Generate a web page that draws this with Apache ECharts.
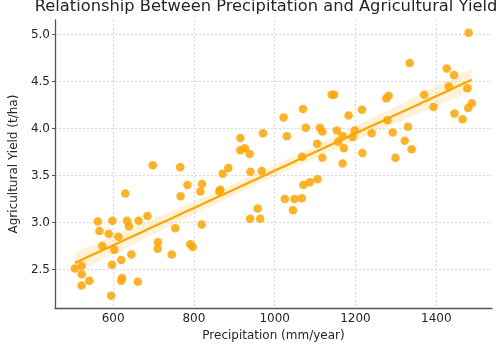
<!DOCTYPE html>
<html>
<head>
<meta charset="utf-8">
<script src="https://cdn.jsdelivr.net/npm/echarts@6/dist/echarts.min.js"></script>
<style>
  html, body { margin: 0; padding: 0; background: #fff; }
  #main { width: 498px; height: 347px; }
</style>
</head>
<body>
<div id="main"></div>
<script>
// precipitation (mm/year) and yield (t/ha)
var precipitation = [
  505, 522, 522, 522, 541, 562, 566, 573, 589, 598,
  597, 595, 603, 613, 620, 620, 622, 630, 634, 639,
  645, 661, 663, 685, 698, 711, 710, 745, 754, 766,
  767, 784, 791, 797, 816, 820, 819, 863, 865, 871,
  885, 915, 915, 926, 938, 940, 939, 958, 964, 968,
  971, 1022, 1025, 1030, 1045, 1049, 1067, 1068, 1070, 1071,
  1077, 1087, 1106, 1105, 1112, 1118, 1118, 1141, 1147, 1154,
  1157, 1168, 1168, 1171, 1183, 1193, 1198, 1216, 1217, 1240,
  1276, 1282, 1279, 1292, 1299, 1322, 1330, 1334, 1339, 1370,
  1393, 1426, 1431, 1444, 1445, 1465, 1477, 1479, 1480, 1488
];
var yieldVals = [
  2.51, 2.54, 2.45, 2.33, 2.38, 3.01, 2.91, 2.75, 2.88, 3.02,
  2.55, 2.22, 2.71, 2.85, 2.60, 2.38, 2.41, 3.31, 3.02, 2.96,
  2.66, 2.37, 3.02, 3.07, 3.61, 2.79, 2.72, 2.66, 2.94, 3.59,
  3.28, 3.40, 2.77, 2.74, 3.33, 3.41, 2.98, 3.33, 3.35, 3.52,
  3.58, 3.90, 3.77, 3.79, 3.73, 3.54, 3.04, 3.15, 3.04, 3.55,
  3.95, 4.12, 3.25, 3.92, 3.13, 3.25, 3.26, 3.70, 4.21, 3.40,
  4.01, 3.43, 3.46, 3.84, 4.01, 3.97, 3.69, 4.36, 4.36, 3.98,
  3.86, 3.92, 3.63, 3.79, 4.14, 3.91, 3.98, 4.20, 3.74, 3.95,
  4.32, 4.35, 4.09, 3.96, 3.69, 3.87, 4.02, 4.70, 3.78, 4.36,
  4.23, 4.64, 4.45, 4.57, 4.16, 4.10, 4.43, 4.22, 5.02, 4.27
];
var xTicks = [600, 800, 1000, 1200, 1400];
var yTicks = [2.5, 3.0, 3.5, 4.0, 4.5, 5.0];

var points = precipitation.map(function (x, i) { return [x, yieldVals[i]]; });

// least squares fit and 95% confidence band
var n = points.length;
var mx = 0, my = 0;
points.forEach(function (p) { mx += p[0]; my += p[1]; });
mx /= n; my /= n;
var sxx = 0, sxy = 0;
points.forEach(function (p) { sxx += (p[0] - mx) * (p[0] - mx); sxy += (p[0] - mx) * (p[1] - my); });
var slope = sxy / sxx, icpt = my - slope * mx;
var sse = 0;
points.forEach(function (p) { var r = p[1] - (icpt + slope * p[0]); sse += r * r; });
var s = Math.sqrt(sse / (n - 2));
var xmin = Math.min.apply(null, precipitation), xmax = Math.max.apply(null, precipitation);
var fitLine = [], bandUp = [], bandLo = [];
for (var k = 0; k <= 60; k++) {
  var x = xmin + (xmax - xmin) * k / 60;
  var yh = icpt + slope * x;
  var se = s * Math.sqrt(1 / n + (x - mx) * (x - mx) / sxx);
  fitLine.push([x, yh]);
  bandUp.push([x, yh + 1.984 * se]);
  bandLo.push([x, yh - 1.984 * se]);
}

var txt = '#262626';
var chart = echarts.init(document.getElementById('main'));
var option = {
  animation: false,
  backgroundColor: '#fff',
  textStyle: { fontFamily: 'DejaVu Sans' },
  title: {
    text: 'Relationship Between Precipitation and Agricultural Yield',
    left: 266, top: -1, padding: 0, textAlign: 'center',
    textStyle: { fontFamily: 'DejaVu Sans', fontSize: 16.3, fontWeight: 'normal', color: txt }
  },
  grid: { left: 41, right: 6, top: 20, bottom: 34, containLabel: false },
  xAxis: {
    type: 'value', min: 456, max: 1538,
    name: 'Precipitation (mm/year)', nameLocation: 'middle', nameGap: 19,
    nameTextStyle: { fontFamily: 'DejaVu Sans', fontSize: 12, color: txt },
    axisLine: { onZero: false, lineStyle: { color: '#555', width: 1.3 } },
    axisTick: { show: false, customValues: xTicks },
    axisLabel: {
      customValues: xTicks, margin: 5, fontFamily: 'DejaVu Sans', fontSize: 12, color: txt,
      formatter: function (v) { return String(v); }
    },
    splitLine: { show: true, lineStyle: { color: '#d0d0d0', type: [2, 2], width: 0.8 } }
  },
  yAxis: {
    type: 'value', min: 2.089, max: 5.157,
    name: 'Agricultural Yield (t/ha)', nameLocation: 'middle', nameGap: 34,
    nameTextStyle: { fontFamily: 'DejaVu Sans', fontSize: 12, color: txt },
    axisLine: { show: true, onZero: false, lineStyle: { color: '#555', width: 1.3 } },
    axisTick: { show: true, length: 3, customValues: yTicks, lineStyle: { color: '#555' } },
    axisLabel: {
      customValues: yTicks, margin: 5, fontFamily: 'DejaVu Sans', fontSize: 12, color: txt,
      formatter: function (v) { return v.toFixed(1); }
    },
    splitLine: { show: true, lineStyle: { color: '#d0d0d0', type: [2, 2], width: 0.8 } }
  },
  series: [
    {
      type: 'scatter',
      data: points,
      symbolSize: 8.5,
      itemStyle: { color: '#FFA500', opacity: 0.85 },
      z: 2
    },
    {
      type: 'custom',
      data: [[xmin, bandLo[0][1]]],
      renderItem: function (params, api) {
        var poly = bandUp.map(function (p) { return api.coord(p); })
          .concat(bandLo.slice().reverse().map(function (p) { return api.coord(p); }));
        return { type: 'polygon', shape: { points: poly }, style: { fill: 'rgba(255,165,0,0.15)' } };
      },
      z: 3, silent: true
    },
    {
      type: 'line',
      data: fitLine,
      showSymbol: false,
      lineStyle: { color: '#FFA500', width: 2.2 },
      z: 4
    }
  ]
};
chart.setOption(option);
</script>
</body>
</html>
